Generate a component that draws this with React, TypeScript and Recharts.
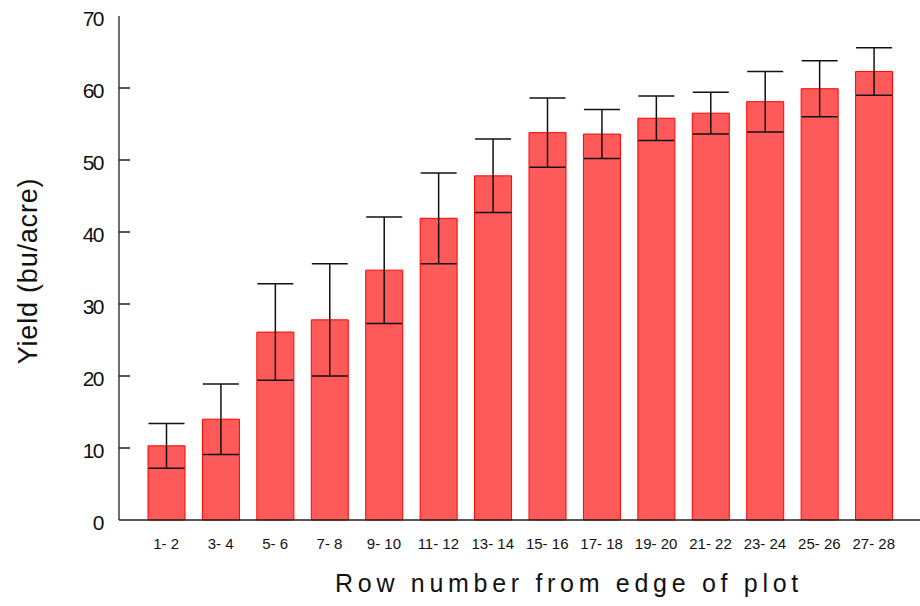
import { BarChart, Bar, XAxis, YAxis, ErrorBar } from "recharts";

const rows = [
  "1- 2", "3- 4", "5- 6", "7- 8", "9- 10", "11- 12", "13- 14",
  "15- 16", "17- 18", "19- 20", "21- 22", "23- 24", "25- 26", "27- 28",
];
const yieldMeans = [
  10.3, 14.0, 26.1, 27.8, 34.7, 41.9, 47.8, 53.8, 53.6, 55.8, 56.5, 58.1, 59.9, 62.3,
];
const yieldErrors = [3.1, 4.9, 6.7, 7.8, 7.4, 6.3, 5.1, 4.8, 3.4, 3.1, 2.9, 4.2, 3.9, 3.3];
const yTicks = [0, 10, 20, 30, 40, 50, 60, 70];

const data = rows.map((row, i) => ({
  row,
  mean: yieldMeans[i],
  err: yieldErrors[i],
}));

const font = "'Liberation Sans', Arial, sans-serif";

// left ticks point into the plot
function YTick(props: any) {
  const { x, y, payload } = props;
  const axisX = x + 16;
  const v = Number(payload.value);
  return (
    <g>
      {v > 0 && v < 70 ? (
        <path d={`M${axisX},${y}h11`} stroke="#222" strokeWidth={1.5} fill="none" />
      ) : null}
      <text
        x={x}
        y={y}
        dy={10}
        textAnchor="end"
        fontSize={21}
        letterSpacing={-1.5}
        fontFamily={font}
        fill="#111"
      >
        {payload.value}
      </text>
    </g>
  );
}

function XTick(props: any) {
  const { x, y, payload } = props;
  return (
    <text x={x} y={y} dy={21} textAnchor="middle" fontSize={15} fontFamily={font} fill="#111">
      {payload.value}
    </text>
  );
}

export default function App() {
  return (
    <div style={{ position: "absolute", left: 0, top: 0, background: "#fff" }}>
      <BarChart
        width={920}
        height={606}
        data={data}
        margin={{ top: 16, right: 0, left: 0, bottom: 0 }}
      >
        <XAxis
          xAxisId="top"
          orientation="top"
          dataKey="row"
          height={0}
          tick={false}
          tickLine={false}
          axisLine={{ stroke: "#222", strokeWidth: 1.3 }}
        />
        <XAxis
          dataKey="row"
          height={86}
          padding={{ left: 20, right: 19 }}
          tickLine={false}
          axisLine={{ stroke: "#222", strokeWidth: 1.3 }}
          tick={<XTick />}
          interval={0}
          label={() => (
            <text
              x={569}
              y={592}
              textAnchor="middle"
              fontSize={25}
              letterSpacing={4.7}
              fontFamily={font}
              fill="#111"
            >
              Row number from edge of plot
            </text>
          )}
        />
        <YAxis
          width={119}
          domain={[0, 70]}
          ticks={yTicks}
          tickLine={false}
          tickSize={0}
          tickMargin={16}
          axisLine={{ stroke: "#222", strokeWidth: 1.3 }}
          tick={<YTick />}
          label={() => (
            <text
              x={37}
              y={271}
              transform="rotate(-90 37 271)"
              textAnchor="middle"
              fontSize={27}
              letterSpacing={0.8}
              fontFamily={font}
              fill="#111"
            >
              Yield (bu/acre)
            </text>
          )}
        />
        <Bar
          dataKey="mean"
          barSize={37}
          fill="#ff5a5a"
          stroke="#ff0000"
          strokeWidth={1}
          isAnimationActive={false}
        >
          <ErrorBar
            dataKey="err"
            width={18}
            stroke="#111"
            strokeWidth={1.5}
            isAnimationActive={false}
          />
        </Bar>
      </BarChart>
    </div>
  );
}
